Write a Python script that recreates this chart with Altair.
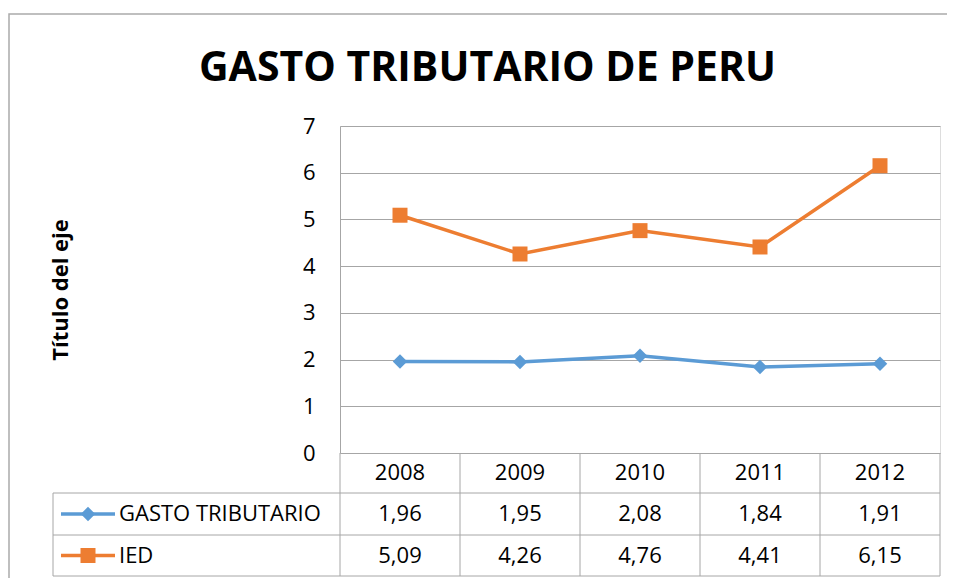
import altair as alt
import pandas as pd

# ---- data ----
title_text = "GASTO TRIBUTARIO DE PERU"
years = ["2008", "2009", "2010", "2011", "2012"]
gasto_tributario = [1.96, 1.95, 2.08, 1.84, 1.91]
ied = [5.09, 4.26, 4.76, 4.41, 6.15]
series_names = ["GASTO TRIBUTARIO", "IED"]
series_colors = ["#5B9BD5", "#ED7D31"]
series_shapes = ["diamond", "square"]
y_ticks = [0, 1, 2, 3, 4, 5, 6, 7]


def fmt(v):
    return f"{v:.2f}".replace(".", ",")


df = pd.DataFrame({
    "year": years * 2,
    "value": gasto_tributario + ied,
    "series": [series_names[0]] * len(years) + [series_names[1]] * len(years),
})
df["label"] = df["value"].map(fmt)
df_years = pd.DataFrame({"year": years})
one = pd.DataFrame({"k": [0]})

# ---- layout / style ----
W, H = 600, 327
FONT = "Open Sans"
GRID = "#A6A6A6"
TEXT = "#000000"
ROW_H = [367, 409, 450]              # bottoms of table rows (pixels below plot top)
ROW_C = [347, 388, 429.5]            # centers of table rows
TABLE_LEFT = -287
MARK_SIZES = [210, 225]

xscale = alt.Scale(type="band", domain=years, paddingInner=0, paddingOuter=0)


def X(pos=0.5):
    return alt.X("year:N", scale=xscale, axis=None, bandPosition=pos)


color = alt.Color("series:N", scale=alt.Scale(domain=series_names, range=series_colors), legend=None)
shape = alt.Shape("series:N", scale=alt.Scale(domain=series_names, range=series_shapes), legend=None)

yenc = alt.Y(
    "value:Q",
    scale=alt.Scale(domain=[0, 7], nice=False, zero=True),
    axis=alt.Axis(
        values=y_ticks, format="d", title="Título del eje",
        grid=True, gridColor=GRID, gridWidth=1,
        domain=True, domainColor=GRID, domainWidth=1,
        ticks=False, labelPadding=25,
        labelFont=FONT, labelFontSize=22, labelColor=TEXT,
        titleFont=FONT, titleFontSize=22, titleFontWeight="bold", titleColor=TEXT,
        titleAngle=-90, titleX=-280, titleY=H / 2, titleAlign="center", titleBaseline="middle",
    ),
)

border = alt.Chart(one).mark_rect(fillOpacity=0, stroke="#ABABAB", strokeWidth=1.5).encode(
    x=alt.value(-331), x2=alt.value(640), y=alt.value(-112), y2=alt.value(480)
)

title = alt.Chart(pd.DataFrame({"t": [title_text]})).mark_text(
    font=FONT, fontSize=41, fontWeight="bold", color=TEXT, align="center", baseline="alphabetic"
).encode(x=alt.value(147.5), y=alt.value(-45), text="t:N")

lines = alt.Chart(df).mark_line(strokeWidth=3.5).encode(x=X(), y=yenc, color=color)
points = alt.Chart(df).mark_point(filled=True, opacity=1).encode(
    x=X(), y="value:Q", color=color, shape=shape,
    size=alt.Size("series:N", scale=alt.Scale(domain=series_names, range=MARK_SIZES), legend=None),
)

# table grid
vrules = alt.Chart(df_years).mark_rule(color=GRID, strokeWidth=1).encode(
    x=X(0), y=alt.value(H), y2=alt.value(ROW_H[2])
)
right_rule = alt.Chart(one).mark_rule(color=GRID, strokeWidth=1).encode(
    x=alt.value(W), y=alt.value(H), y2=alt.value(ROW_H[2])
)
left_rule = alt.Chart(one).mark_rule(color=GRID, strokeWidth=1).encode(
    x=alt.value(TABLE_LEFT), y=alt.value(ROW_H[0]), y2=alt.value(ROW_H[2])
)
hrules = [
    alt.Chart(one).mark_rule(color=GRID, strokeWidth=1).encode(
        x=alt.value(TABLE_LEFT), x2=alt.value(W), y=alt.value(yy)
    )
    for yy in ROW_H
]

year_text = alt.Chart(df_years).mark_text(font=FONT, fontSize=22, color=TEXT, baseline="middle").encode(
    x=X(), y=alt.value(ROW_C[0]), text="year:N"
)

row_layers = []
for i, name in enumerate(series_names):
    sub = df[df["series"] == name]
    row_layers.append(
        alt.Chart(sub).mark_text(font=FONT, fontSize=22, color=TEXT, baseline="middle").encode(
            x=X(), y=alt.value(ROW_C[i + 1]), text="label:N"
        )
    )
    row_layers.append(
        alt.Chart(one).mark_rule(color=series_colors[i], strokeWidth=3.5).encode(
            x=alt.value(-279), x2=alt.value(-225), y=alt.value(ROW_C[i + 1])
        )
    )
    row_layers.append(
        alt.Chart(one).mark_point(filled=True, opacity=1, color=series_colors[i],
                                  shape=series_shapes[i], size=MARK_SIZES[i]).encode(
            x=alt.value(-252), y=alt.value(ROW_C[i + 1])
        )
    )
    row_layers.append(
        alt.Chart(pd.DataFrame({"name": [name]})).mark_text(
            font=FONT, fontSize=22, color=TEXT, baseline="middle", align="left"
        ).encode(x=alt.value(-221), y=alt.value(ROW_C[i + 1]), text="name:N")
    )

chart = alt.layer(
    border, title, lines, points, vrules, right_rule, left_rule, *hrules, year_text, *row_layers
).properties(
    width=W, height=H,
    padding={"left": 332, "top": 118, "right": 7, "bottom": 125},
    autosize=alt.AutoSizeParams(type="none"),
).configure_view(stroke=None).configure(background="white")

chart.save("out.html", embed_options={"renderer": "svg", "actions": False})
